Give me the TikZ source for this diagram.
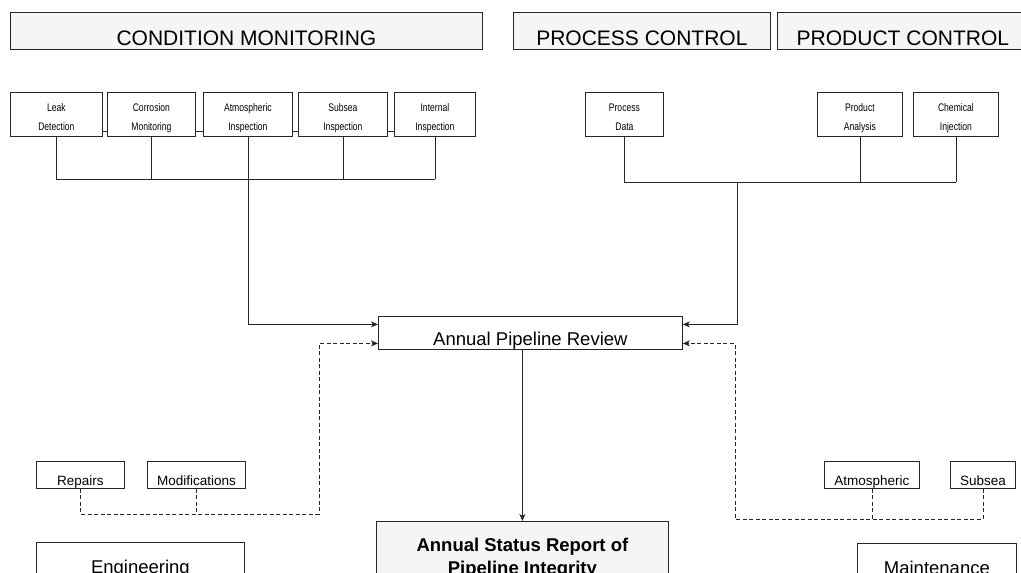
\documentclass[tikz,border=0pt]{standalone}
\usepackage{fontspec}
\setmainfont{Liberation Sans}
\newfontfamily\narrowfont[FakeStretch=0.78]{Liberation Sans}
\usepackage{tikz}
\usetikzlibrary{calc, arrows.meta, positioning}

\tikzset{
	box/.style={draw=black!85, line width=0.8pt, inner sep=0pt, anchor=north west},
	headbox/.style={box, fill=gray!8, minimum height=37pt},
	smallbox/.style={box, minimum height=44pt},
	lowbox/.style={box, minimum height=27pt},
	bigbox/.style={box, minimum height=60pt},
	headtext/.style={anchor=base, inner sep=0pt, font=\fontsize{21}{25}\selectfont},
	smalltext/.style={anchor=base, inner sep=0pt, font=\narrowfont\fontsize{11}{13}\selectfont},
	midtext/.style={anchor=base, inner sep=0pt, font=\fontsize{18.5}{22}\selectfont},
	lowtext/.style={anchor=base, inner sep=0pt, font=\fontsize{13.5}{16}\selectfont},
	boldtext/.style={anchor=base, inner sep=0pt, font=\bfseries\fontsize{18.5}{22}\selectfont},
	link/.style={draw=black!85, line width=0.8pt},
	arrow/.style={link, -{Stealth[length=7pt, width=6pt, inset=2pt]}},
	dashline/.style={link, dash pattern=on 4pt off 2.5pt},
	dasharrow/.style={dashline, -{Stealth[length=7pt, width=6pt, inset=2pt]}}
}

\begin{document}
\begin{tikzpicture}[x=1pt, y=-1pt]
			\useasboundingbox (0,0) rectangle (1021,573);
			\clip (0,0) rectangle (1021,573);

			\newcommand{\headBox}[4]
			{
				\node [headbox, minimum width=#3] (#1) at (#2,12) {};
				\node [headtext] (#1-text) at ($(#1.north)+(0,33.5)$) {#4};
			}

			\newcommand{\smallBox}[5]
			{
				\node [smallbox, minimum width=#3] (#1) at (#2,92) {};
				\node [smalltext] (#1-a) at ($(#1.north)+(0,19.5)$) {#4};
				\node [smalltext] (#1-b) at ($(#1.north)+(0,38.5)$) {#5};
			}

			\newcommand{\lowBox}[4]
			{
				\node [lowbox, minimum width=#3] (#1) at (#2,461) {};
				\node [lowtext] (#1-text) at ($(#1.north)+(0,24)$) {#4};
			}

			\begin{scope}
				\headBox{condmon}{10}{472}{CONDITION MONITORING}
				\headBox{proccon}{513}{257}{PROCESS CONTROL}
				\headBox{prodcon}{777}{251}{PRODUCT CONTROL}
			\end{scope}

			\begin{scope}
				\smallBox{leak}{10}{92}{Leak}{Detection}
				\smallBox{corr}{107}{88}{Corrosion}{Monitoring}
				\smallBox{atmo}{203}{89}{Atmospheric}{Inspection}
				\smallBox{subsea}{298}{89}{Subsea}{Inspection}
				\smallBox{internal}{394}{81}{Internal}{Inspection}
				\smallBox{procdata}{585}{78}{Process}{Data}
				\smallBox{prodan}{817}{85}{Product}{Analysis}
				\smallBox{chem}{913}{85}{Chemical}{Injection}
			\end{scope}

			\begin{scope}
				\node [box, minimum width=304, minimum height=33] (review) at (378,316) {};
				\node [midtext] (review-text) at ($(review.north)+(0,29.5)$) {Annual Pipeline Review};

				\node [bigbox, fill=gray!8, minimum width=292, minimum height=80] (status) at (376,521) {};
				\node [boldtext] (status-a) at ($(status.north)+(0,30)$) {Annual Status Report of};
				\node [boldtext] (status-b) at ($(status.north)+(0,53)$) {Pipeline Integrity};

				\node [bigbox, minimum width=208] (eng) at (36,542) {};
				\node [midtext] (eng-text) at ($(eng.north)+(0,31.5)$) {Engineering};
				\node [bigbox, minimum width=159] (maint) at (857,543) {};
				\node [midtext] (maint-text) at ($(maint.north)+(0,31)$) {Maintenance};
			\end{scope}

			\begin{scope}
				\lowBox{repairs}{36}{88}{Repairs}
				\lowBox{modif}{147}{98}{Modifications}
				\lowBox{atmos}{824}{95}{Atmospheric}
				\lowBox{subsea2}{950}{65}{Subsea}
			\end{scope}

			\coordinate (cmbus) at (0,179);
			\coordinate (pcbus) at (737,182);
			\coordinate (engbus) at (319,514);
			\coordinate (mntbus) at (735,519);

			\begin{scope}
				\foreach \a/\b in {leak/corr, corr/atmo, atmo/subsea, subsea/internal}
					\draw [link] ([yshift=-17pt]\a.east) -- ([yshift=-17pt]\b.west);
				\foreach \n in {leak, corr, subsea, internal}
					\draw [link] (\n.south) -- (\n.south |- cmbus);
				\draw [link] (leak.south |- cmbus) -- (internal.south |- cmbus);
				\draw [arrow] (atmo.south) |- ([yshift=8.5pt]review.west);

				\foreach \n in {procdata, prodan, chem}
					\draw [link] (\n.south) -- (\n.south |- pcbus);
				\draw [link] (procdata.south |- pcbus) -- (chem.south |- pcbus);
				\draw [arrow] (pcbus) |- ([yshift=8.5pt]review.east);

				\draw [arrow] (status.north |- review.south) -- (status.north);
			\end{scope}

			\begin{scope}
				\draw [dasharrow] (repairs.south) |- (engbus) |- ([yshift=-10.5pt]review.west);
				\draw [dashline] (modif.south) -- (modif.south |- engbus);
				\draw [dasharrow] (subsea2.south) |- (mntbus) |- ([yshift=-10.5pt]review.east);
				\draw [dashline] (atmos.south) -- (atmos.south |- mntbus);
			\end{scope}
		\end{tikzpicture}
\end{document}
